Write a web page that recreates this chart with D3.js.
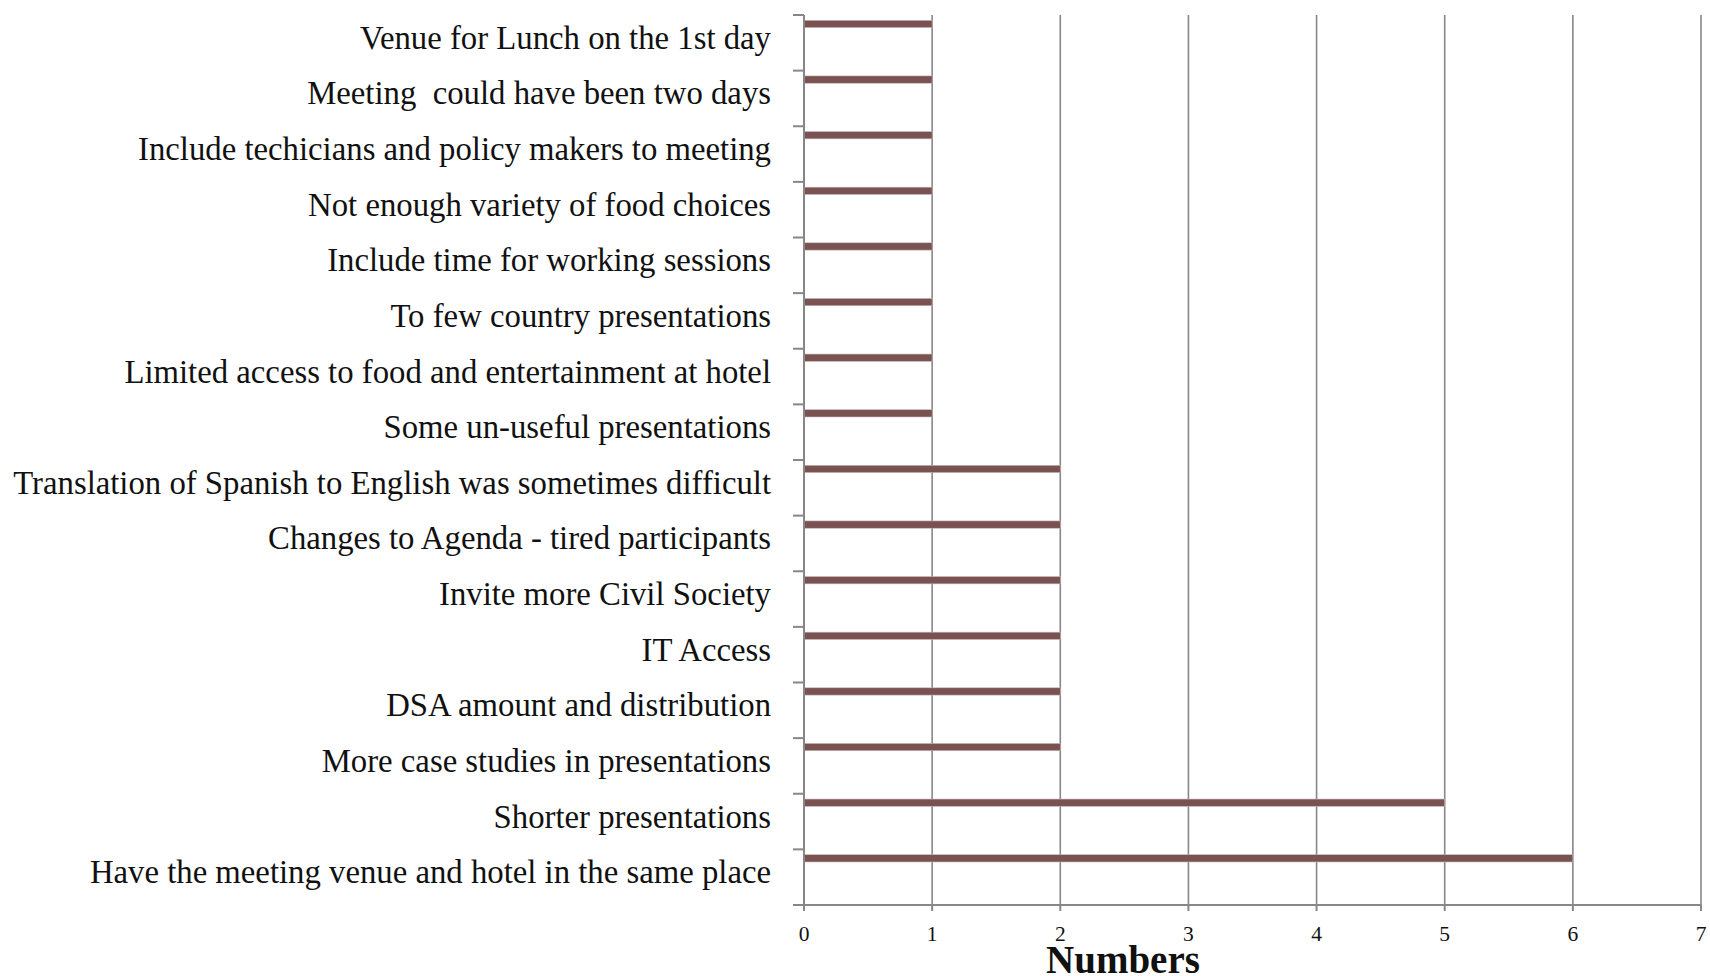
<!DOCTYPE html>
<html>
<head>
<meta charset="utf-8">
<script src="https://cdn.jsdelivr.net/npm/d3@7"></script>
<style>
html,body{margin:0;padding:0;background:#fff;overflow:hidden;}
svg{display:block;}
text{white-space:pre;}
</style>
</head>
<body>
<svg id="chart" width="1710" height="976"></svg>
<script>
const categories = [
  "Venue for Lunch on the 1st day",
  "Meeting  could have been two days",
  "Include techicians and policy makers to meeting",
  "Not enough variety of food choices",
  "Include time for working sessions",
  "To few country presentations",
  "Limited access to food and entertainment at hotel",
  "Some un-useful presentations",
  "Translation of Spanish to English was sometimes difficult",
  "Changes to Agenda - tired participants",
  "Invite more Civil Society",
  "IT Access",
  "DSA amount and distribution",
  "More case studies in presentations",
  "Shorter presentations",
  "Have the meeting venue and hotel in the same place"
];
const values = [1,1,1,1,1,1,1,1,2,2,2,2,2,2,5,6];
const xTicks = [0,1,2,3,4,5,6,7];
const xTitle = "Numbers";

const svg = d3.select("#chart");
const mLeft = 804, mRight = 1701, mTop = 15, mBottom = 905;

const x = d3.scaleLinear().domain([0,7]).range([mLeft,mRight]);
const y = d3.scaleBand().domain(categories).range([mTop,mBottom]).padding(0);
const bw = y.bandwidth();

// gridlines
svg.append("g").selectAll("line").data(xTicks.filter(d=>d>0)).join("line")
  .attr("x1",d=>x(d)).attr("x2",d=>x(d)).attr("y1",mTop).attr("y2",mBottom)
  .attr("stroke","#878787").attr("stroke-width",1.6);

// bars
svg.append("g").selectAll("rect").data(categories).join("rect")
  .attr("x",x(0))
  .attr("y",(d)=>y(d)+bw*0.095)
  .attr("width",(d,i)=>x(values[i])-x(0))
  .attr("height",bw*0.132)
  .attr("fill","#7a5252")
  .attr("stroke","#c9bcbc").attr("stroke-width",0.6);

// y axis
const yAxis = svg.append("g");
yAxis.append("line").attr("x1",mLeft).attr("x2",mLeft).attr("y1",mTop).attr("y2",mBottom)
  .attr("stroke","#878787").attr("stroke-width",2);
const boundaries = categories.map(c=>y(c)).concat([mBottom]);
yAxis.selectAll("line.tk").data(boundaries).join("line").attr("class","tk")
  .attr("x1",mLeft-11).attr("x2",mLeft).attr("y1",d=>d).attr("y2",d=>d)
  .attr("stroke","#878787").attr("stroke-width",2);
yAxis.selectAll("text").data(categories).join("text")
  .attr("x",771).attr("y",d=>y(d)+bw/2+6)
  .attr("text-anchor","end")
  .attr("font-family","'Liberation Serif','Times New Roman',serif")
  .attr("font-size",32.75)
  .attr("fill","#111")
  .text(d=>d);

// x axis
const xAxis = svg.append("g");
xAxis.append("line").attr("x1",mLeft).attr("x2",mRight).attr("y1",mBottom).attr("y2",mBottom)
  .attr("stroke","#878787").attr("stroke-width",2);
xAxis.selectAll("line.tk").data(xTicks).join("line").attr("class","tk")
  .attr("x1",d=>x(d)).attr("x2",d=>x(d)).attr("y1",mBottom).attr("y2",mBottom+6)
  .attr("stroke","#878787").attr("stroke-width",2);
xAxis.selectAll("text").data(xTicks).join("text")
  .attr("x",d=>x(d)).attr("y",941)
  .attr("text-anchor","middle")
  .attr("font-family","'Liberation Serif','Times New Roman',serif")
  .attr("font-size",21.5)
  .attr("fill","#111")
  .text(d=>d);

svg.append("text").attr("x",1123).attr("y",973)
  .attr("text-anchor","middle")
  .attr("font-family","'Liberation Serif','Times New Roman',serif")
  .attr("font-weight","bold")
  .attr("font-size",39)
  .attr("fill","#111")
  .text(xTitle);
</script>
</body>
</html>
